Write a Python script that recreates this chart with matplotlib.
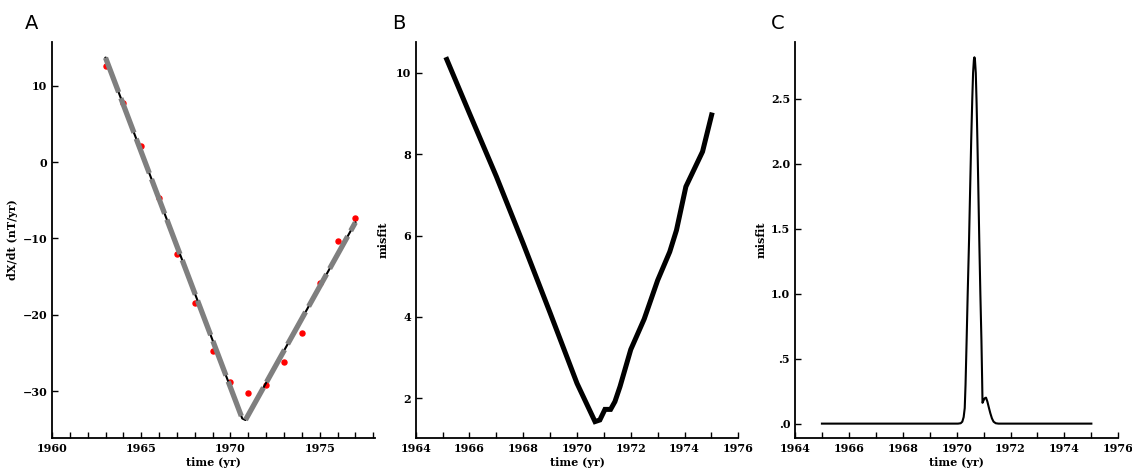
import matplotlib
matplotlib.use("Agg")
import matplotlib.pyplot as plt
from matplotlib.ticker import MultipleLocator, FixedLocator, FixedFormatter

# ---- Panel A: secular variation data and piecewise-linear fit ----
obs_years = [1963, 1964, 1965, 1966, 1967, 1968, 1969, 1970,
             1971, 1972, 1973, 1974, 1975, 1976, 1977]
obs_dxdt = [12.6, 7.8, 2.1, -4.7, -12.0, -18.5, -24.8, -28.8,
            -30.2, -29.2, -26.2, -22.4, -15.9, -10.3, -7.3]

model_years = [1963.0, 1970.66, 1970.84, 1977.0]
model_dxdt = [13.7, -33.6, -33.8, -7.9]

# ---- Panel B: misfit as a function of jerk time ----
misfit_years = [1965.12, 1966.0, 1967.0, 1968.0, 1969.0, 1970.0, 1970.67,
                1970.85, 1971.04, 1971.25, 1971.41, 1971.6, 1972.0, 1972.5,
                1973.0, 1973.45, 1973.7, 1974.05, 1974.67, 1975.03]
misfit_vals = [10.38, 9.0, 7.45, 5.8, 4.1, 2.37, 1.43,
               1.47, 1.73, 1.73, 1.92, 2.29, 3.2, 3.95,
               4.9, 5.6, 6.13, 7.2, 8.06, 9.02]

# ---- Panel C: posterior density of jerk time ----
post_years = [1965.0, 1970.05, 1970.15, 1970.21, 1970.26, 1970.3, 1970.33,
              1970.37, 1970.41, 1970.46, 1970.5, 1970.54, 1970.58, 1970.61,
              1970.64, 1970.66, 1970.68, 1970.71, 1970.74, 1970.77, 1970.8,
              1970.84, 1970.88, 1970.92, 1970.945, 1970.96, 1970.99, 1971.04,
              1971.09, 1971.14, 1971.2, 1971.25, 1971.31, 1971.37, 1971.45,
              1971.55, 1975.0]
post_vals = [0.0, 0.0, 0.003, 0.015, 0.05, 0.12, 0.3,
             0.64, 1.0, 1.41, 1.8, 2.18, 2.5, 2.7,
             2.8, 2.82, 2.8, 2.7, 2.47, 2.18, 1.86,
             1.41, 1.0, 0.64, 0.35, 0.16, 0.175, 0.195,
             0.2, 0.17, 0.12, 0.08, 0.04, 0.015, 0.003,
             0.0, 0.0]

c_yticks = [0.0, 0.5, 1.0, 1.5, 2.0, 2.5]
c_yticklabels = [".0", ".5", "1.0", "1.5", "2.0", "2.5"]

W, H = 1132, 469
fig = plt.figure(figsize=(W / 100, H / 100), dpi=100)

label_font = dict(family="DejaVu Serif", weight="bold", size=8)


def frame(left_px, right_px):
    bottom = 1 - 438.3 / H
    top = 1 - 41.7 / H
    ax = fig.add_axes([left_px / W, bottom, (right_px - left_px) / W, top - bottom])
    for side in ("top", "right"):
        ax.spines[side].set_visible(False)
    for side in ("left", "bottom"):
        ax.spines[side].set_linewidth(1.3)
    ax.tick_params(which="both", direction="in", width=1.0)
    ax.tick_params(which="major", length=4, pad=3.5)
    ax.tick_params(which="minor", length=4)
    return ax


def style_labels(ax):
    for lab in ax.get_xticklabels() + ax.get_yticklabels():
        lab.set_fontfamily("DejaVu Serif")
        lab.set_fontweight("bold")
        lab.set_fontsize(8)


# Panel A
axA = frame(52, 375)
axA.plot(model_years, model_dxdt, color="black", lw=1.5, zorder=2)
axA.plot(model_years, model_dxdt, color="#7f7f7f", lw=3.8,
         linestyle=(0, (7, 1.2)), zorder=3, solid_capstyle="round")
axA.plot(obs_years, obs_dxdt, "o", color="red", ms=3.6, mec="red", zorder=1)
axA.set_xlim(1960, 1978.1)
axA.set_ylim(-36.2, 15.8)
axA.xaxis.set_major_locator(MultipleLocator(5))
axA.xaxis.set_minor_locator(MultipleLocator(1))
axA.yaxis.set_major_locator(FixedLocator([-30, -20, -10, 0, 10]))
axA.set_xlabel("time (yr)", labelpad=2, **label_font)
axA.set_ylabel("dX/dt (nT/yr)", labelpad=3, **label_font)
style_labels(axA)

# Panel B
axB = frame(415.7, 738.3)
axB.plot(misfit_years, misfit_vals, color="black", lw=3.6,
         solid_joinstyle="miter", solid_capstyle="butt")
axB.set_xlim(1964, 1976)
axB.set_ylim(1.02, 10.76)
axB.xaxis.set_major_locator(MultipleLocator(2))
axB.xaxis.set_minor_locator(MultipleLocator(1))
axB.yaxis.set_major_locator(FixedLocator([2, 4, 6, 8, 10]))
axB.set_xlabel("time (yr)", labelpad=2, **label_font)
axB.set_ylabel("misfit", labelpad=5, **label_font)
style_labels(axB)

# Panel C
axC = frame(795, 1118.3)
axC.plot(post_years, post_vals, color="black", lw=1.5)
axC.set_xlim(1964, 1976)
axC.set_ylim(-0.113, 2.94)
axC.xaxis.set_major_locator(MultipleLocator(2))
axC.xaxis.set_minor_locator(MultipleLocator(1))
axC.yaxis.set_major_locator(FixedLocator(c_yticks))
axC.yaxis.set_major_formatter(FixedFormatter(c_yticklabels))
axC.set_xlabel("time (yr)", labelpad=2, **label_font)
axC.set_ylabel("misfit", labelpad=3, **label_font)
style_labels(axC)

# Panel letters
for letter, xpx in (("A", 25), ("B", 392), ("C", 771)):
    fig.text(xpx / W, 1 - 29 / H, letter, fontsize=14, family="DejaVu Sans",
             ha="left", va="baseline")

fig.savefig("out.png", dpi=100)
